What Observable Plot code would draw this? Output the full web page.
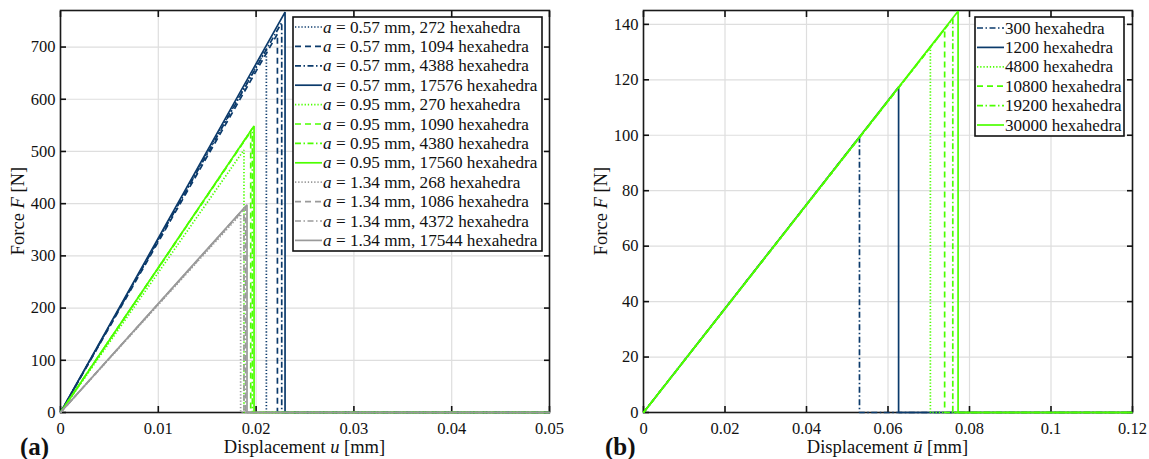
<!DOCTYPE html>
<html>
<head>
<meta charset="utf-8">
<script src="https://cdn.jsdelivr.net/npm/d3@7"></script>
<script src="https://cdn.jsdelivr.net/npm/@observablehq/plot@0.6"></script>
<style>
  html, body { margin: 0; padding: 0; background: #fff; }
  #wrap { position: relative; width: 1149px; height: 459px; overflow: hidden; background: #fff; }
  #wrap svg { position: absolute; top: 0; }
</style>
</head>
<body>
<div id="wrap"></div>
<script>
// ---------- Panel (a) data ----------
const aXTicks = [0, 0.01, 0.02, 0.03, 0.04, 0.05];
const aYTicks = [0, 100, 200, 300, 400, 500, 600, 700];
const aLabels = [
  "0.57 mm, 272 hexahedra", "0.57 mm, 1094 hexahedra", "0.57 mm, 4388 hexahedra", "0.57 mm, 17576 hexahedra",
  "0.95 mm, 270 hexahedra", "0.95 mm, 1090 hexahedra", "0.95 mm, 4380 hexahedra", "0.95 mm, 17560 hexahedra",
  "1.34 mm, 268 hexahedra", "1.34 mm, 1086 hexahedra", "1.34 mm, 4372 hexahedra", "1.34 mm, 17544 hexahedra"
];
const aPeakU = [0.02105, 0.02218, 0.02262, 0.02296, 0.01876, 0.01945, 0.01962, 0.01979, 0.01842, 0.01876, 0.01893, 0.01907];
const aPeakF = [697, 725, 747, 767, 503, 538, 544, 549, 380, 390, 394, 398];
const aXMax = 0.05;

// ---------- Panel (b) data ----------
const bXTicks = [0, 0.02, 0.04, 0.06, 0.08, 0.1, 0.12];
const bYTicks = [0, 20, 40, 60, 80, 100, 120, 140];
const bLabels = ["300 hexahedra", "1200 hexahedra", "4800 hexahedra", "10800 hexahedra", "19200 hexahedra", "30000 hexahedra"];
const bPeakU = [0.0530, 0.0626, 0.0704, 0.0739, 0.0759, 0.0772];
const bPeakF = [99.4, 117.4, 131.8, 138.3, 142.0, 144.7];
const bXMax = 0.12;

// ---------- styles ----------
const NAVY = "#0b3a6b", GREEN = "#4cff00", GRAY = "#9a9a9a";
const DOT = "1.3,1.9", DASH = "6,4", DASHDOT = "6,2.5,1.5,2.5", SOLID = null;
const aColors = [NAVY, NAVY, NAVY, NAVY, GREEN, GREEN, GREEN, GREEN, GRAY, GRAY, GRAY, GRAY];
const aDash = [DOT, DASH, DASHDOT, SOLID, DOT, DASH, DASHDOT, SOLID, DOT, DASH, DASHDOT, SOLID];
const bColors = [NAVY, NAVY, GREEN, GREEN, GREEN, GREEN];
const bDash = [DASHDOT, SOLID, DOT, DASH, DASHDOT, SOLID];

const FONT = "'Liberation Serif', serif";
const LW = 1.7;

function seriesRows(u, F, xmax) {
  return [{u: 0, F: 0}, {u: u, F: F}, {u: u, F: 0}, {u: xmax, F: 0}];
}

function makePanel(opt) {
  const lineMarks = opt.peakU.map((u, i) =>
    Plot.line(seriesRows(u, opt.peakF[i], opt.xmax), {
      x: "u", y: "F", stroke: opt.colors[i], strokeWidth: LW,
      strokeDasharray: opt.dash[i] || undefined, strokeLinejoin: "miter", strokeLinecap: "butt"
    })
  );
  const tickStroke = "#111";
  return Plot.plot({
    width: opt.width, height: 459,
    marginLeft: opt.ml, marginRight: opt.mr, marginTop: 10, marginBottom: 47,
    x: {domain: [0, opt.xmax]},
    y: {domain: opt.ydomain},
    style: {fontFamily: FONT, fontSize: "16.5px", color: "#111", background: "transparent", overflow: "visible"},
    marks: [
      Plot.gridX(opt.xticks, {stroke: "#dedede", strokeOpacity: 1, strokeWidth: 1.2}),
      Plot.gridY(opt.yticks, {stroke: "#dedede", strokeOpacity: 1, strokeWidth: 1.2}),
      Plot.frame({stroke: "#1a1a1a", strokeWidth: 1.6}),
      Plot.axisX(opt.xticks, {anchor: "bottom", tickSize: -6, tickPadding: 16, label: null, stroke: tickStroke, strokeWidth: 1.6, tickFormat: d => String(+d.toFixed(4))}),
      Plot.axisX(opt.xticks, {anchor: "top", tickSize: -6, label: null, stroke: tickStroke, strokeWidth: 1.6, tickFormat: () => ""}),
      Plot.axisY(opt.yticks, {anchor: "left", tickSize: -6, tickPadding: 11, label: null, stroke: tickStroke, strokeWidth: 1.6, tickFormat: d => String(d)}),
      Plot.axisY(opt.yticks, {anchor: "right", tickSize: -6, label: null, stroke: tickStroke, strokeWidth: 1.6, tickFormat: () => ""}),
      ...lineMarks
    ]
  });
}

function addLabels(svg, cfg) {
  const s = d3.select(svg);
  const yl = s.append("text")
    .attr("transform", `translate(${cfg.ylx},${cfg.ylcy}) rotate(-90)`)
    .attr("text-anchor", "middle").attr("font-family", FONT).attr("font-size", 18.5).attr("fill", "#111");
  yl.append("tspan").text("Force ");
  yl.append("tspan").attr("font-style", "italic").text("F");
  yl.append("tspan").text(" [N]");
  const xl = s.append("text")
    .attr("x", cfg.xlcx).attr("y", 453)
    .attr("text-anchor", "middle").attr("font-family", FONT).attr("font-size", 18.5).attr("fill", "#111");
  xl.append("tspan").text("Displacement ");
  xl.append("tspan").attr("font-style", "italic").text(cfg.uSym);
  xl.append("tspan").text(" [mm]");
  s.append("text").attr("x", cfg.tagx).attr("y", 455).attr("text-anchor", "start")
    .attr("font-family", FONT).attr("font-weight", "bold").attr("font-size", 25).attr("fill", "#111")
    .text(cfg.tag);
}

function addLegend(svg, cfg) {
  const s = d3.select(svg);
  const g = s.append("g");
  g.append("rect").attr("x", cfg.x).attr("y", cfg.y).attr("width", cfg.w).attr("height", cfg.h)
    .attr("fill", "#fff").attr("stroke", "#111").attr("stroke-width", 1.6);
  cfg.labels.forEach((lab, i) => {
    const cy = cfg.y + cfg.first + cfg.step * i;
    g.append("line").attr("x1", cfg.x + 2).attr("x2", cfg.x + 29).attr("y1", cy).attr("y2", cy)
      .attr("stroke", cfg.colors[i]).attr("stroke-width", LW)
      .attr("stroke-dasharray", cfg.dash[i] || null);
    const t = g.append("text").attr("x", cfg.x + 30).attr("y", cy + 5.5)
      .attr("text-anchor", "start")
      .attr("font-family", FONT).attr("font-size", cfg.fs).attr("fill", "#111");
    if (cfg.prefix) {
      t.append("tspan").attr("font-style", "italic").text("a");
      t.append("tspan").text(" = " + lab);
    } else {
      t.text(lab);
    }
  });
}

const wrap = document.getElementById("wrap");

// Panel (a)
const svgA = makePanel({
  width: 575, ml: 60, mr: 26, xmax: aXMax, ydomain: [0, 770],
  xticks: aXTicks, yticks: aYTicks, peakU: aPeakU, peakF: aPeakF, colors: aColors, dash: aDash
});
svgA.style.left = "0px";
wrap.appendChild(svgA);
addLabels(svgA, {ylx: 24, ylcy: 211, xlcx: 304.5, uSym: "u", tag: "(a)", tagx: 20});
addLegend(svgA, {x: 293, y: 17, w: 249, h: 234, first: 10, step: 19.4, labels: aLabels, colors: aColors, dash: aDash, fs: 17.2, prefix: true});

// Panel (b)
const svgB = makePanel({
  width: 574, ml: 68, mr: 17, xmax: bXMax, ydomain: [0, 145],
  xticks: bXTicks, yticks: bYTicks, peakU: bPeakU, peakF: bPeakF, colors: bColors, dash: bDash
});
svgB.style.left = "575px";
wrap.appendChild(svgB);
addLabels(svgB, {ylx: 32, ylcy: 211, xlcx: 312.5, uSym: "\u016B", tag: "(b)", tagx: 30});
addLegend(svgB, {x: 400, y: 17, w: 149, h: 119, first: 11, step: 19.4, labels: bLabels, colors: bColors, dash: bDash, fs: 17, prefix: false});
</script>
</body>
</html>
